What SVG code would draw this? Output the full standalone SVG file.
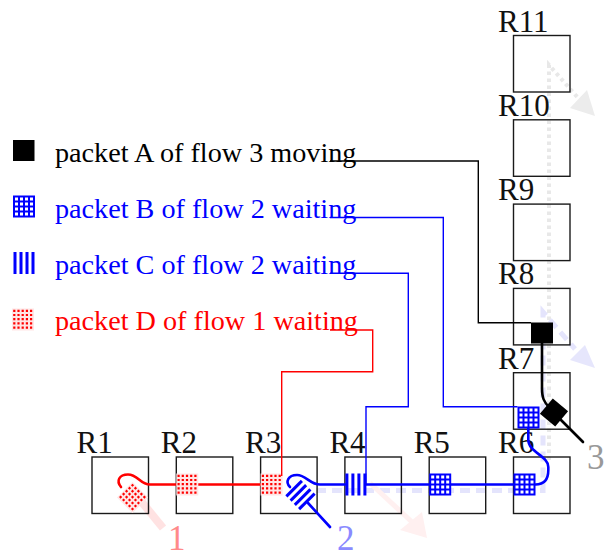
<svg xmlns="http://www.w3.org/2000/svg" width="606" height="558" viewBox="0 0 606 558">
<style>
text{font-family:"Liberation Serif","Times New Roman",serif}
.box{fill:none;stroke:#1a1a1a;stroke-width:1.4}
.rl{font-size:31px;fill:#111}
.lg{font-size:28.2px}
.lead{fill:none;stroke-width:1.4}
.flow{fill:none;stroke-width:2.6;stroke-linecap:round}
.num{font-size:35px}
</style>
<defs>
<g id="pktB">
<rect width="22" height="22" fill="#0000ff"/>
<path fill="#ffffff" d="M2 2h3v3h-3zM7 2h3v3h-3zM12 2h3v3h-3zM17 2h3v3h-3zM2 7h3v3h-3zM7 7h3v3h-3zM12 7h3v3h-3zM17 7h3v3h-3zM2 12h3v3h-3zM7 12h3v3h-3zM12 12h3v3h-3zM17 12h3v3h-3zM2 17h3v3h-3zM7 17h3v3h-3zM12 17h3v3h-3zM17 17h3v3h-3z"/>
</g>
<g id="pktC" fill="#0000ff">
<rect x="0.5" width="3" height="22"/><rect x="6.5" width="3" height="22"/><rect x="12.5" width="3" height="22"/><rect x="18.5" width="3" height="22"/>
</g>
<g id="pktD">
<rect width="22" height="22" fill="#ffe6e6"/>
<path fill="#ff0000" d="M1.2 1.2h2.2v2.2h-2.2zM5.4 1.2h2.2v2.2h-2.2zM9.6 1.2h2.2v2.2h-2.2zM13.8 1.2h2.2v2.2h-2.2zM18 1.2h2.2v2.2h-2.2zM1.2 5.4h2.2v2.2h-2.2zM5.4 5.4h2.2v2.2h-2.2zM9.6 5.4h2.2v2.2h-2.2zM13.8 5.4h2.2v2.2h-2.2zM18 5.4h2.2v2.2h-2.2zM1.2 9.6h2.2v2.2h-2.2zM5.4 9.6h2.2v2.2h-2.2zM9.6 9.6h2.2v2.2h-2.2zM13.8 9.6h2.2v2.2h-2.2zM18 9.6h2.2v2.2h-2.2zM1.2 13.8h2.2v2.2h-2.2zM5.4 13.8h2.2v2.2h-2.2zM9.6 13.8h2.2v2.2h-2.2zM13.8 13.8h2.2v2.2h-2.2zM18 13.8h2.2v2.2h-2.2zM1.2 18h2.2v2.2h-2.2zM5.4 18h2.2v2.2h-2.2zM9.6 18h2.2v2.2h-2.2zM13.8 18h2.2v2.2h-2.2zM18 18h2.2v2.2h-2.2z"/>
</g>
</defs>
<rect width="606" height="558" fill="#ffffff"/>

<g id="faded-paths">
<path d="M549 460V65L579 99" fill="none" stroke="#e8e8e8" stroke-width="4" stroke-dasharray="3.5 3.5"/>
<polygon points="595,116 570,108 587,90" fill="#ececec"/>
<path d="M316 490.5H543V312L575 349" fill="none" stroke="#e4e4fc" stroke-width="5" stroke-dasharray="10 6"/>
<polygon points="595,368 570,360 585,345" fill="#e6e6fc"/>
<path d="M370 483L412 522" fill="none" stroke="#fff0f0" stroke-width="5"/>
<polygon points="427,538 400,530 422,512" fill="#fff0f0"/>
<path d="M136 495L163 528" fill="none" stroke="#ffe2e2" stroke-width="8"/>
</g>

<g id="R1"><rect class="box" x="92" y="457" width="56.5" height="56.5"/><text class="rl" x="76.5" y="453">R1</text></g>
<g id="R2"><rect class="box" x="176.3" y="457" width="56.5" height="56.5"/><text class="rl" x="160.8" y="453">R2</text></g>
<g id="R3"><rect class="box" x="260.6" y="457" width="56.5" height="56.5"/><text class="rl" x="245.1" y="453">R3</text></g>
<g id="R4"><rect class="box" x="344.9" y="457" width="56.5" height="56.5"/><text class="rl" x="329.4" y="453">R4</text></g>
<g id="R5"><rect class="box" x="429.2" y="457" width="56.5" height="56.5"/><text class="rl" x="413.7" y="453">R5</text></g>
<g id="R6"><rect class="box" x="513.5" y="457" width="56.5" height="56.5"/><text class="rl" x="498" y="453">R6</text></g>
<g id="R7"><rect class="box" x="513.5" y="372.7" width="56.5" height="56.5"/><text class="rl" x="498" y="368.7">R7</text></g>
<g id="R8"><rect class="box" x="513.5" y="288.4" width="56.5" height="56.5"/><text class="rl" x="498" y="284.4">R8</text></g>
<g id="R9"><rect class="box" x="513.5" y="204.1" width="56.5" height="56.5"/><text class="rl" x="498" y="200.1">R9</text></g>
<g id="R10"><rect class="box" x="513.5" y="119.8" width="56.5" height="56.5"/><text class="rl" x="498" y="115.8">R10</text></g>
<g id="R11"><rect class="box" x="513.5" y="35.5" width="56.5" height="56.5"/><text class="rl" x="498" y="31.5">R11</text></g>

<g id="legend">
<rect x="13" y="140" width="21.5" height="21" fill="#000"/>
<text class="lg" x="55" y="161.5" fill="#000">packet A of flow 3 moving</text>
<use href="#pktB" x="13" y="195.5"/>
<text class="lg" x="55" y="217.5" fill="#0000ff">packet B of flow 2 waiting</text>
<use href="#pktC" x="13" y="252"/>
<text class="lg" x="55" y="273.5" fill="#0000ff">packet C of flow 2 waiting</text>
<use href="#pktD" x="12" y="308.5"/>
<text class="lg" x="55" y="329.5" fill="#ff0000">packet D of flow 1 waiting</text>
</g>

<g id="connectors">
<path class="flow" stroke="#ff0000" d="M260.6 484.5H198.3"/>
<path class="flow" stroke="#ff0000" d="M176.3 484.5H150C140 484.5 138 474.5 128 474.5C119 474.5 116 481 121 487"/>
<path class="flow" stroke="#0000ff" d="M344.9 484.5H320C310 484.5 306 475 297 475C288 475 285 482 290 487"/>
<path class="flow" stroke="#0000ff" d="M366 484.5H429.2M451 484.5H513.5"/>
<path class="flow" stroke="#0000ff" d="M535.5 484.5C544 484.5 548.3 480 548.3 470V467C548.3 456 528.3 452 528.3 440V428.5"/>
<path class="flow" stroke="#0000ff" d="M308 503L330 527"/>
<path class="flow" stroke="#000" d="M542 343V388C542 398 544 402 549 407"/>
<path class="flow" stroke="#000" d="M559 418L583 442"/>
</g>

<g id="packets">
<use href="#pktD" x="176.3" y="473.5"/>
<use href="#pktD" x="260.6" y="473.5"/>
<use href="#pktD" transform="translate(132.5,497.5) rotate(45) translate(-11,-11)"/>
<use href="#pktC" x="344.9" y="473.5"/>
<use href="#pktC" transform="translate(300.5,495) rotate(45) translate(-11,-11)"/>
<use href="#pktB" x="429.2" y="473.5"/>
<use href="#pktB" x="513.5" y="473.5"/>
<use href="#pktB" x="517.5" y="406.5"/>
<rect x="531" y="322.5" width="22" height="21" fill="#000"/>
<rect x="-10" y="-10" width="20" height="20" fill="#000" transform="translate(554,412.5) rotate(40)"/>
</g>

<g id="leaders">
<path class="lead" stroke="#000" d="M330 161H478.3V322.7H531"/>
<path class="lead" stroke="#0000ff" d="M330 217.5H443.3V406.7H517.5"/>
<path class="lead" stroke="#0000ff" d="M330 273.3H408.3V406.7H366V484"/>
<path class="lead" stroke="#ff0000" d="M330 330H372.7V371.7H281.7V476"/>
</g>

<g id="labels">
<text class="num" x="168" y="550" fill="#ff8a8a">1</text>
<text class="num" x="337" y="550" fill="#8a8aff">2</text>
<text class="num" x="587" y="469" fill="#999999">3</text>
</g>
</svg>
